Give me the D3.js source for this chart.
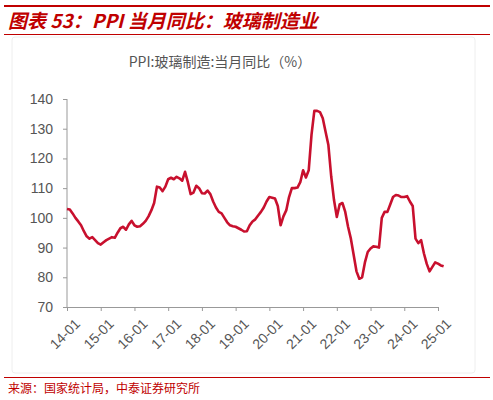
<!DOCTYPE html>
<html><head><meta charset="utf-8">
<script src="https://cdn.jsdelivr.net/npm/d3@7"></script>
<style>body{margin:0;background:#fff;font-family:"Noto Sans CJK SC",sans-serif}</style>
</head><body><svg id="c" width="493" height="400"></svg>
<script>
'use strict';
var years = ['14','15','16','17','18','19','20','21','22','23','24','25'];
var yTicks = [70,80,90,100,110,120,130,140];
var v2014 = [103,102.8,101.5,100,98.8,97.5,95.5,93.8,93,93.5,92.5,91.5];
var v2015 = [91,91.8,92.5,93,93.5,93.3,95,96.5,97,96,97.8,99];
var v2016 = [97.5,97,97.2,98,99,100.5,102.5,105,110.5,110.2,109,110.5];
var v2017 = [113,113.5,113,113.8,113.3,112.5,115.5,112,108,108.5,110.8,110];
var v2018 = [108.3,108.2,109.2,108,105.5,103.5,102,101.5,100,98.5,97.5,97.2];
var v2019 = [97,96.5,96,95.4,95.5,97.5,98.8,99.5,100.8,102,103.5,105.5];
var v2020 = [107,106.8,106.5,104,97.5,100.5,102.5,107,110,110,110.2,112];
var v2021 = [116,113.6,116,128,136,136,135.6,133.5,129,124.5,114,106];
var v2022 = [100.3,104.5,105,102,97,93,87.5,82,79.5,80,85,88.5];
var v2023 = [89.7,90.4,90.3,90,100,102,102,104.5,107,107.7,107.5,107];
var v2024 = [107,107.3,105.5,104,93,91.5,92.5,88,84.5,82,83.5,85];
var v2025 = [84.6,84,83.7];

var values = [].concat(v2014,v2015,v2016,v2017,v2018,v2019,v2020,v2021,v2022,v2023,v2024,v2025);
var data = values.map((v, i) => ({m: i, v: v}));

var svg = d3.select('#c');
var red = '#c00000';

// header
svg.append('rect').attr('x', 4).attr('y', 5).attr('width', 486).attr('height', 2).attr('fill', red);
svg.append('text').attr('x', 8).attr('y', 28)
  .attr('fill', red).attr('font-size', 19).attr('font-weight', 'bold').attr('font-style', 'italic')
  .text('图表 53：PPI 当月同比：玻璃制造业');
svg.append('rect').attr('x', 4).attr('y', 34).attr('width', 486).attr('height', 1).attr('fill', red);
svg.append('rect').attr('x', 12).attr('y', 37).attr('width', 463).attr('height', 336)
  .attr('fill', 'none').attr('stroke', '#eee').attr('rx', 3);
svg.append('text').attr('x', 220).attr('y', 67).attr('text-anchor', 'middle')
  .attr('fill', '#555').attr('font-size', 14).text('PPI:玻璃制造:当月同比（%）');

var x = d3.scaleLinear().domain([0, 132]).range([67, 438]);
var y = d3.scaleLinear().domain([70, 140]).range([307, 99]);

var gy = svg.append('g').attr('transform', 'translate(67,0)')
  .call(d3.axisLeft(y).tickValues(yTicks).tickSize(4).tickPadding(10));
var gx = svg.append('g').attr('transform', 'translate(0,307)')
  .call(d3.axisBottom(x).tickValues(years.map((d, i) => i * 12))
    .tickFormat((d, i) => years[i] + '-01').tickSize(4).tickPadding(4));
[gy, gx].forEach(g => {
  g.selectAll('path,line').attr('stroke', '#999');
  g.selectAll('text').attr('fill', '#555').attr('font-size', 14).attr('font-family', 'Liberation Sans, sans-serif');
});
gy.select('.domain').remove();
gy.append('line').attr('y1', 99).attr('y2', 307).attr('stroke', '#999');
gx.selectAll('text').attr('text-anchor', 'end').attr('dy', '0.3em')
  .attr('transform', 'translate(5,9) rotate(-45)');

svg.append('path').datum(data)
  .attr('d', d3.line().x(d => x(d.m)).y(d => y(d.v)))
  .attr('fill', 'none').attr('stroke', '#c8102e').attr('stroke-width', 2.6)
  .attr('stroke-linejoin', 'round');

svg.append('rect').attr('x', 4).attr('y', 377).attr('width', 486).attr('height', 1).attr('fill', red);
svg.append('text').attr('x', 8).attr('y', 393).attr('fill', red).attr('font-size', 12)
  .text('来源：国家统计局，中泰证券研究所');
</script></body></html>
